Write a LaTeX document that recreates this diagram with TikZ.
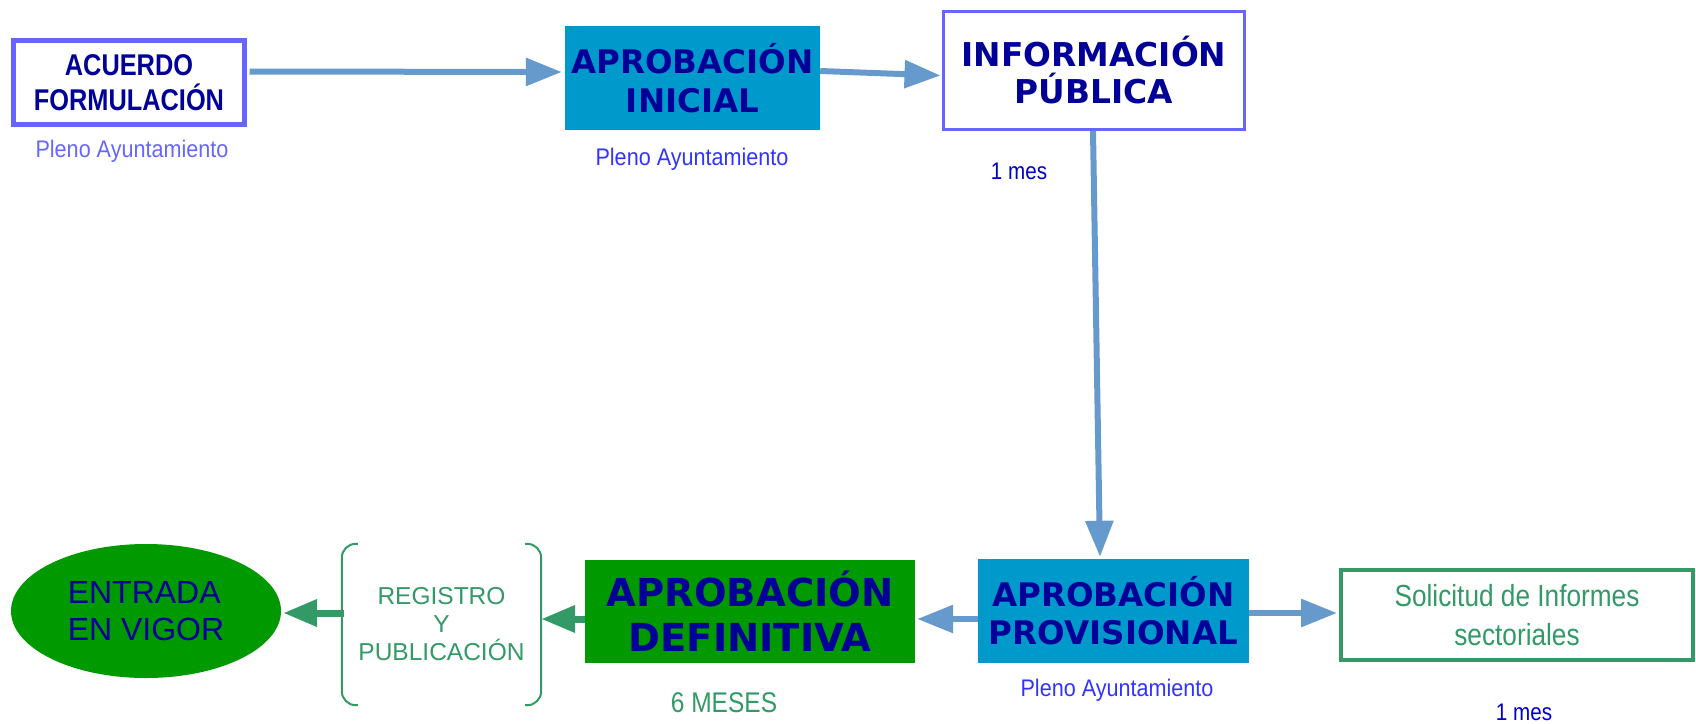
\documentclass[tikz,border=0pt]{standalone}
\usepackage{fontspec}
\usetikzlibrary{arrows.meta,shapes.geometric,calc}
\newfontfamily\vbold{DejaVu Sans}
\newfontfamily\narrowb[FakeStretch=0.845]{Liberation Sans}
\newfontfamily\narrowf[FakeStretch=0.9]{Liberation Sans}
\newfontfamily\narrowg[FakeStretch=0.86]{Liberation Sans}
\newfontfamily\arialf{Liberation Sans}
\definecolor{navy}{HTML}{000099}
\definecolor{lightblue}{HTML}{6666FF}
\definecolor{midblue}{HTML}{3333FF}
\definecolor{darkblue}{HTML}{0000CC}
\definecolor{arrowblue}{HTML}{6699CC}
\definecolor{teal}{HTML}{0099CC}
\definecolor{boxgreen}{HTML}{009900}
\definecolor{sgreen}{HTML}{339966}
\tikzset{
  lbl/.style={inner sep=0pt, align=center},
  bluearrow/.style={line width=6pt, draw=arrowblue, -{Triangle[length=36pt,width=27pt]}},
  greenarrow/.style={line width=7pt, draw=sgreen, -{Triangle[length=34pt,width=26pt]}},
  tealbox/.style={fill=teal, draw=none, inner sep=0pt, align=center, text=navy},
}
\begin{document}
\begin{tikzpicture}[x=1pt,y=-1pt]
\useasboundingbox (0,0) rectangle (1696,723);
% top row
\node[draw=lightblue, line width=5pt, fill=white, minimum width=231pt, minimum height=84pt, inner sep=0pt, align=center, text=navy,
  font=\narrowb\bfseries\fontsize{30}{35}\selectfont] (acu) at (129,82.5) {ACUERDO\\FORMULACIÓN};
\node[lbl, text=lightblue, font=\narrowf\fontsize{24}{28}\selectfont] (p1) at (132,151) {Pleno Ayuntamiento};
\node[tealbox, minimum width=255pt, minimum height=104pt, font=\vbold\bfseries\fontsize{32.5}{39}\selectfont] (ini) at (692.5,78) {APROBACIÓN\\INICIAL};
\node[lbl, text=midblue, font=\narrowf\fontsize{24}{28}\selectfont] (p2) at (692,159) {Pleno Ayuntamiento};
\node[draw=lightblue, line width=3pt, fill=white, minimum width=301pt, minimum height=118pt, inner sep=0pt, align=center, text=navy,
  font=\vbold\bfseries\fontsize{32.8}{37}\selectfont] (info) at (1094,70.5) {INFORMACIÓN\\PÚBLICA};
\node[lbl, text=darkblue, font=\narrowg\fontsize{24}{28}\selectfont] (m1) at (1019,171) {1 mes};
% bottom row
\node[tealbox, minimum width=271pt, minimum height=104pt, font=\vbold\bfseries\fontsize{32.5}{38}\selectfont] (prov) at (1113.5,611) {APROBACIÓN\\PROVISIONAL};
\node[lbl, text=midblue, font=\narrowf\fontsize{24}{28}\selectfont] (p3) at (1117,690) {Pleno Ayuntamiento};
\node[draw=sgreen, line width=4pt, fill=white, minimum width=352pt, minimum height=90pt, inner sep=0pt, align=center, text=sgreen,
  font=\narrowg\fontsize{30.5}{39}\selectfont] (sol) at (1517,615) {Solicitud de Informes\\sectoriales};
\node[lbl, text=darkblue, font=\narrowg\fontsize{24}{28}\selectfont] (m2) at (1524,712) {1 mes};
\node[fill=boxgreen, draw=none, minimum width=330pt, minimum height=103pt, inner sep=0pt, align=center, text=navy,
  font=\vbold\bfseries\fontsize{38.5}{45}\selectfont] (def) at (750,611.5) {APROBACIÓN\\DEFINITIVA};
\node[lbl, text=sgreen, font=\narrowg\fontsize{28.5}{30}\selectfont] (m6) at (724,703) {6 MESES};
\node[minimum width=199pt, minimum height=161pt, inner sep=0pt, align=center, text=sgreen,
  font=\arialf\fontsize{24.5}{28}\selectfont] (reg) at (441.5,624.5) {REGISTRO\\Y\\PUBLICACIÓN};
\draw[sgreen, line width=2pt, rounded corners=14pt] ([xshift=16pt]reg.north west) -- (reg.north west) -- (reg.south west) -- ([xshift=16pt]reg.south west);
\draw[sgreen, line width=2pt, rounded corners=14pt] ([xshift=-16pt]reg.north east) -- (reg.north east) -- (reg.south east) -- ([xshift=-16pt]reg.south east);
\node[ellipse, fill=boxgreen, draw=none, minimum width=270pt, minimum height=134pt, inner sep=0pt, align=left, text=navy,
  font=\arialf\fontsize{32}{37}\selectfont] (vig) at (146,611) {ENTRADA\\EN VIGOR};
% connectors
\draw[bluearrow] ($(acu.east)+(2.5,-11)$) -- ($(ini.west)+(-3,-6)$);
\draw[bluearrow] ($(ini.east)+(0,-7)$) -- ($(info.west)+(-1.5,5)$);
\draw[bluearrow] ($(info.south)+(-1,0)$) -- ($(prov.north)+(-13.5,-2)$);
\draw[bluearrow] ($(prov.east)+(0,2)$) -- ($(sol.west)+(-2,-2)$);
\draw[bluearrow] ($(prov.west)+(0,8)$) -- ($(def.east)+(2,7.5)$);
\draw[greenarrow] ($(def.west)+(0,7.5)$) -- ($(reg.east)+(0,-5.5)$);
\draw[greenarrow] ($(reg.west)+(2,-11.5)$) -- ($(vig.east)+(2,2)$);
\end{tikzpicture}
\end{document}
